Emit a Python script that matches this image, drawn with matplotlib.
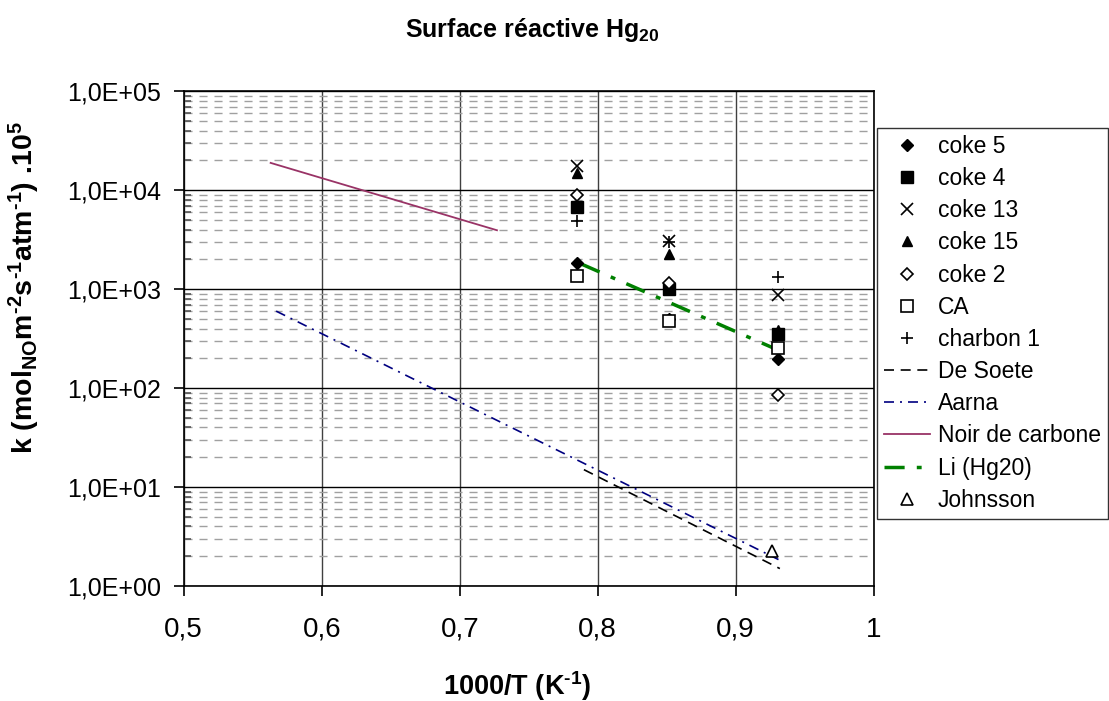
import matplotlib
matplotlib.use("Agg")
import matplotlib.pyplot as plt
from matplotlib.ticker import FixedLocator, FuncFormatter, LogLocator, NullFormatter

plt.rcParams['font.family'] = ['Liberation Sans', 'DejaVu Sans']
plt.rcParams['mathtext.default'] = 'regular'

# mesures (1000/T, k)
x_points = [0.785, 0.852, 0.931]
coke5 = [1830, 500, 195]
coke4 = [6800, 1000, 355]
coke13 = [17500, 3100, 870]
coke15 = [15000, 2250, 390]
coke2 = [9000, 1150, 85]
ca = [1360, 480, 255]
charbon1 = [4900, 3000, 1330]

# correlations de la litterature
desoete_x = [0.79, 0.932]
desoete_y = [15, 1.5]
aarna_x = [0.567, 0.931]
aarna_y = [600, 1.85]
noir_x = [0.563, 0.727]
noir_y = [18900, 3940]
li_x = [0.788, 0.932]
li_y = [1800, 238]
johnsson_x = [0.926]
johnsson_y = [2.25]

x_ticks = [0.5, 0.6, 0.7, 0.8, 0.9, 1.0]
x_labels = ["0,5", "0,6", "0,7", "0,8", "0,9", "1"]

W, H = 1109, 701
fig = plt.figure(figsize=(W / 100, H / 100), dpi=100)
ax = fig.add_axes([183.7 / W, 1 - 586 / H, 690 / W, (586 - 91.3) / H])

ms = 7
ax.plot(x_points, coke5, ls='none', marker='D', ms=ms - 1, mfc='black', mec='black', label='coke 5', zorder=5)
ax.plot(x_points, coke4, ls='none', marker='s', ms=ms + 1, mfc='black', mec='black', label='coke 4', zorder=5)
ax.plot(x_points, coke13, ls='none', marker='x', ms=ms + 1, mec='black', mew=1.2, label='coke 13', zorder=5)
ax.plot(x_points, coke15, ls='none', marker='^', ms=ms, mfc='black', mec='black', label='coke 15', zorder=5)
ax.plot(x_points, coke2, ls='none', marker='D', ms=ms - 1, mfc='white', mec='black', mew=1.2, label='coke 2', zorder=5)
ax.plot(x_points, ca, ls='none', marker='s', ms=ms + 1, mfc='white', mec='black', mew=1.2, label='CA', zorder=5)
ax.plot(x_points, charbon1, ls='none', marker='+', ms=ms + 2, mec='black', mew=1.2, label='charbon 1', zorder=5)
ax.plot(desoete_x, desoete_y, color='black', ls=(0, (6, 4)), lw=1.2, label='De Soete', zorder=4)
ax.plot(aarna_x, aarna_y, color='#000080', ls=(0, (6, 3.6, 1.2, 3.6)), lw=1.2, label='Aarna', zorder=4)
ax.plot(noir_x, noir_y, color='#993366', ls='-', lw=1.3, label='Noir de carbone', zorder=4)
ax.plot(li_x, li_y, color='#008000', ls=(0, (5.8, 3.5, 1.4, 3.5)), lw=2.5, label='Li (Hg20)', zorder=4)
ax.plot(johnsson_x, johnsson_y, ls='none', marker='^', ms=ms + 2, mfc='white', mec='black', mew=1.2, label='Johnsson', zorder=5)

ax.set_yscale('log')
ax.set_xlim(0.5, 1.0)
ax.set_ylim(1, 1e5)

ax.xaxis.set_major_locator(FixedLocator(x_ticks))
ax.set_xticklabels(x_labels)
ax.yaxis.set_major_locator(LogLocator(base=10, numticks=10))
ax.yaxis.set_minor_locator(LogLocator(base=10, subs=range(2, 10), numticks=20))
ax.yaxis.set_major_formatter(FuncFormatter(lambda v, p: ("%.1E" % v).replace('.', ',')))
ax.yaxis.set_minor_formatter(NullFormatter())

ax.grid(True, which='major', axis='y', color='black', lw=1.0, ls='-')
ax.grid(True, which='major', axis='x', color='#404040', lw=1.0, ls='-')
ax.grid(True, which='minor', axis='y', color='#a0a0a0', lw=1.0, ls=(0, (5.8, 5)))
ax.set_axisbelow(True)

ax.tick_params(axis='both', which='major', direction='out', length=7, width=1.2)
ax.tick_params(axis='x', which='major', labelsize=20, pad=15)
ax.tick_params(axis='y', which='major', labelsize=18, pad=9)
ax.tick_params(axis='y', which='minor', direction='in', length=5, width=1.2, color='#555555')
for s in ax.spines.values():
    s.set_linewidth(1.2)

ax.set_xlabel("1000/T (K$^{\u20101}$)", fontsize=19.5, fontweight='bold')
ax.xaxis.set_label_coords(517 / W, 1 - 669 / H, transform=fig.transFigure)
ax.set_ylabel("k (mol$_{NO}$m$^{\u20102}$s$^{\u20101}$atm$^{\u20101}$) .10$^{5}$",
              fontsize=20.5, fontweight='bold')
ax.yaxis.set_label_coords(42 / W, 1 - 288 / H, transform=fig.transFigure)
fig.text(532 / W, 1 - 30 / H, "Surface réactive Hg$_{20}$", ha='center', va='center',
         fontsize=18, fontweight='bold')

leg = ax.legend(loc='upper left', bbox_to_anchor=(877 / W, 1 - 128 / H), bbox_transform=fig.transFigure,
                fontsize=16.5, frameon=True, fancybox=False, edgecolor='black', labelspacing=0.4,
                handlelength=2.0, handletextpad=0.35, borderaxespad=0, borderpad=0.3)
leg.get_frame().set_linewidth(1.0)

fig.savefig("out.png", dpi=100)
